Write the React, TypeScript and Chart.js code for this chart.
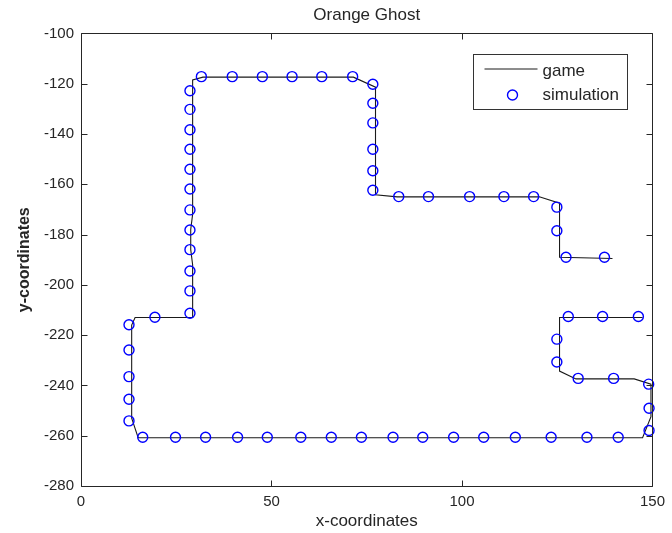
import React, { useEffect, useRef } from "react";
import { Chart, registerables } from "chart.js";

Chart.register(...registerables);

const TITLE = "Orange Ghost";
const X_LABEL = "x-coordinates";
const Y_LABEL = "y-coordinates";
const GAME_LABEL = "game";
const SIM_LABEL = "simulation";

const xTicks = [0, 50, 100, 150];
const yTicks = [-100, -120, -140, -160, -180, -200, -220, -240, -260, -280];

const gameX = [139.5, 125.6, 125.6, 120.3, 83.0, 77.3, 77.3, 71.5, 32.0, 29.3, 29.3, 28.8, 28.8, 29.3, 29.3, 14.2, 13.3, 13.3, 15.0, 147.4, 149.6, 149.6, 145.2, 129.9, 125.6, 125.6, 147.4];
const gameY = [-189.5, -189.0, -167.5, -165.0, -165.0, -164.2, -121.4, -117.4, -117.4, -118.5, -172.0, -178.0, -186.0, -192.0, -213.0, -213.0, -216.0, -253.0, -260.8, -260.8, -252.4, -239.5, -237.4, -237.4, -234.3, -213.0, -213.0];

const simX = [137.4, 127.3, 124.9, 124.9, 118.8, 111.0, 102.0, 91.2, 83.4, 76.6, 76.6, 76.6, 76.6, 76.6, 76.6, 71.3, 63.2, 55.4, 47.6, 39.7, 31.6, 28.6, 28.6, 28.6, 28.6, 28.6, 28.6, 28.6, 28.6, 28.6, 28.6, 28.6, 28.6, 19.4, 12.6, 12.6, 12.6, 12.6, 12.6, 16.2, 24.8, 32.7, 41.1, 48.9, 57.7, 65.7, 73.6, 81.9, 89.7, 97.8, 105.7, 114.0, 123.4, 132.8, 141.0, 149.1, 149.1, 149.0, 139.8, 130.5, 124.9, 124.9, 127.9, 136.9, 146.3];
const simY = [-189.0, -189.0, -178.5, -169.1, -164.9, -164.9, -164.9, -164.9, -164.9, -162.4, -154.6, -146.1, -135.6, -127.8, -120.2, -117.2, -117.2, -117.2, -117.2, -117.2, -117.2, -122.8, -130.2, -138.3, -146.1, -154.0, -161.9, -170.2, -178.2, -186.0, -194.5, -202.4, -211.3, -212.9, -215.9, -225.9, -236.5, -245.5, -254.1, -260.6, -260.6, -260.6, -260.6, -260.6, -260.6, -260.6, -260.6, -260.6, -260.6, -260.6, -260.6, -260.6, -260.6, -260.6, -260.6, -257.9, -249.1, -239.5, -237.2, -237.2, -230.7, -221.6, -212.6, -212.6, -212.6];

const FONT = "'Liberation Sans', Arial, sans-serif";
const TEXT = "#262626";
const AXIS = "#262626";
const LINE = "#1a1a1a";
const BLUE = "rgb(0,0,255)";

const framePlugin = {
  id: "frameTicks",
  afterDatasetsDraw(chart: any) {
    const { ctx, chartArea } = chart;
    const xs = chart.scales.x;
    const ys = chart.scales.y;
    const l = Math.round(chartArea.left) + 0.5;
    const r = Math.round(chartArea.right) + 0.5;
    const t = Math.round(chartArea.top) + 0.5;
    const b = Math.round(chartArea.bottom) + 0.5;
    const len = 6;
    ctx.save();
    ctx.strokeStyle = AXIS;
    ctx.lineWidth = 1;
    ctx.beginPath();
    ctx.rect(l, t, r - l, b - t);
    for (const v of xTicks) {
      const p = Math.round(xs.getPixelForValue(v)) + 0.5;
      ctx.moveTo(p, b);
      ctx.lineTo(p, b - len);
      ctx.moveTo(p, t);
      ctx.lineTo(p, t + len);
    }
    for (const v of yTicks) {
      const p = Math.round(ys.getPixelForValue(v)) + 0.5;
      ctx.moveTo(l, p);
      ctx.lineTo(l + len, p);
      ctx.moveTo(r, p);
      ctx.lineTo(r - len, p);
    }
    ctx.stroke();

    // legend box (top-right inside plot)
    const bx = Math.round(chartArea.right - 179.5) + 0.5;
    const by = Math.round(chartArea.top + 20.5) + 0.5;
    const bw = 154;
    const bh = 55;
    ctx.fillStyle = "#ffffff";
    ctx.fillRect(bx, by, bw, bh);
    ctx.strokeStyle = "#333333";
    ctx.strokeRect(bx, by, bw, bh);
    const ds = chart.data.datasets;
    ctx.strokeStyle = LINE;
    ctx.lineWidth = 1;
    ctx.beginPath();
    ctx.moveTo(bx + 11, by + 14.5);
    ctx.lineTo(bx + 64, by + 14.5);
    ctx.stroke();
    ctx.strokeStyle = BLUE;
    ctx.lineWidth = 1.4;
    ctx.beginPath();
    ctx.arc(bx + 39, by + 40.5, 5, 0, Math.PI * 2);
    ctx.stroke();
    ctx.fillStyle = TEXT;
    ctx.font = `17px ${FONT}`;
    ctx.textBaseline = "middle";
    ctx.textAlign = "left";
    ctx.fillText(ds[0].label, bx + 69, by + 17);
    ctx.fillText(ds[1].label, bx + 69, by + 41);
    ctx.restore();
  },
};

export default function App() {
  const ref = useRef<HTMLCanvasElement | null>(null);
  useEffect(() => {
    if (!ref.current) return;
    const game = gameX.map((x, i) => ({ x, y: gameY[i] }));
    const sim = simX.map((x, i) => ({ x, y: simY[i] }));
    const chart = new Chart(ref.current, {
      type: "scatter",
      data: {
        datasets: [
          {
            label: GAME_LABEL,
            data: game,
            showLine: true,
            borderColor: LINE,
            borderWidth: 1.1,
            pointRadius: 0,
            pointHoverRadius: 0,
            tension: 0,
            order: 2,
          },
          {
            label: SIM_LABEL,
            data: sim,
            showLine: false,
            borderColor: BLUE,
            backgroundColor: "rgba(0,0,0,0)",
            borderWidth: 1.4,
            pointRadius: 5,
            pointStyle: "circle",
            clip: false,
            order: 1,
          } as any,
        ],
      },
      options: {
        responsive: false,
        animation: false,
        events: [],
        layout: { padding: { top: 0, right: 18.7, bottom: 0, left: 0 } },
        plugins: {
          legend: { display: false },
          tooltip: { enabled: false },
          title: {
            display: true,
            text: TITLE,
            fullSize: false,
            color: TEXT,
            font: { family: FONT, size: 17, weight: "normal" },
            padding: { top: 5, bottom: 8 },
          },
        },
        scales: {
          x: {
            type: "linear",
            min: 0,
            max: 150,
            afterBuildTicks: (s: any) => {
              s.ticks = xTicks.map((v) => ({ value: v }));
            },
            afterFit: (s: any) => {
              s.height = 47;
            },
            grid: { display: false, drawTicks: false },
            border: { display: false },
            ticks: {
              color: TEXT,
              font: { family: FONT, size: 15 },
              padding: 7,
              maxRotation: 0,
              autoSkip: false,
            },
            title: {
              display: true,
              text: X_LABEL,
              color: TEXT,
              font: { family: FONT, size: 17 },
              padding: { top: 0, bottom: 1 },
            },
          },
          y: {
            type: "linear",
            min: -280,
            max: -100,
            afterBuildTicks: (s: any) => {
              s.ticks = yTicks.map((v) => ({ value: v }));
            },
            afterFit: (s: any) => {
              s.width = 81;
            },
            grid: { display: false, drawTicks: false },
            border: { display: false },
            ticks: {
              color: TEXT,
              font: { family: FONT, size: 15 },
              padding: 7,
              autoSkip: false,
            },
            title: {
              display: true,
              text: Y_LABEL,
              color: TEXT,
              font: { family: FONT, size: 16, weight: "bold" },
              padding: { top: 15, bottom: 0 },
            },
          },
        },
      },
      plugins: [framePlugin],
    });
    return () => chart.destroy();
  }, []);
  return (
    <div style={{ position: "absolute", left: 0, top: 0, width: 672, height: 533, background: "#fff" }}>
      <canvas ref={ref} width={672} height={533} style={{ display: "block" }} />
    </div>
  );
}
